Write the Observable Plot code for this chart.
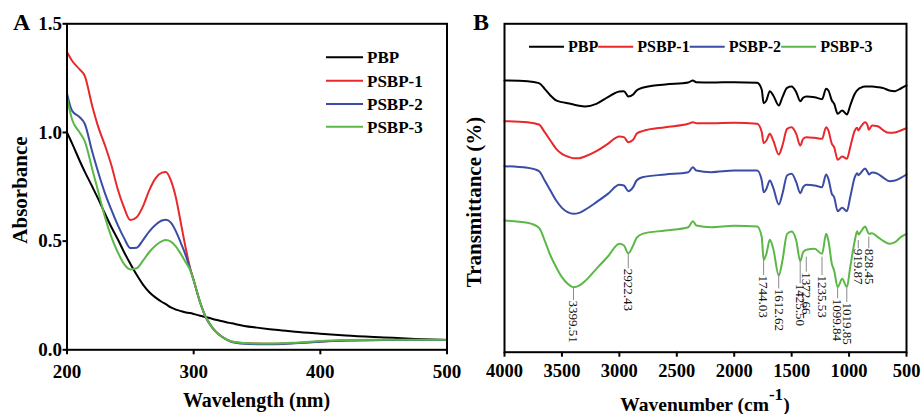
<!DOCTYPE html>
<html>
<head>
<meta charset="utf-8">
<script src="https://cdn.jsdelivr.net/npm/d3@7"></script>
<script src="https://cdn.jsdelivr.net/npm/@observablehq/plot@0.6"></script>
<style>
  html, body { margin: 0; padding: 0; background: #fff; }
  #wrap { position: relative; width: 921px; height: 414px; overflow: hidden; font-family: "Liberation Serif", "Times New Roman", serif; }
  .panel { position: absolute; top: 0; }
</style>
</head>
<body>
<div id="wrap"><div id="pa" class="panel" style="left:0"></div><div id="pb" class="panel" style="left:460px"></div></div>
<script>
// ---------- shared ----------
const seriesNames = ["PBP", "PSBP-1", "PSBP-2", "PSBP-3"];
const seriesColors = ["#000000", "#e8282b", "#3a4ca6", "#5bb846"];

// ---------- Panel A: UV-vis ----------
const wavelengths = [200, 204, 210, 214, 220, 225, 230, 235, 240, 245, 250, 255, 260, 265, 270, 275, 278, 282, 286, 290, 294, 297, 300, 305, 310, 315, 320, 325, 330, 340, 350, 360, 370, 380, 400, 420, 450, 475, 500];
const absPBP = [1.00, 0.95, 0.87, 0.82, 0.75, 0.69, 0.626, 0.565, 0.51, 0.45, 0.396, 0.345, 0.30, 0.265, 0.24, 0.22, 0.21, 0.195, 0.185, 0.178, 0.172, 0.169, 0.165, 0.157, 0.15, 0.142, 0.135, 0.128, 0.122, 0.11, 0.102, 0.095, 0.089, 0.083, 0.074, 0.066, 0.057, 0.05, 0.045];
const absPSBP1 = [1.37, 1.33, 1.29, 1.26, 1.12, 1.02, 0.94, 0.85, 0.74, 0.655, 0.597, 0.61, 0.66, 0.735, 0.79, 0.815, 0.818, 0.78, 0.70, 0.58, 0.46, 0.38, 0.32, 0.22, 0.145, 0.10, 0.07, 0.05, 0.038, 0.031, 0.029, 0.028, 0.029, 0.031, 0.038, 0.043, 0.045, 0.045, 0.045];
const absPSBP2 = [1.18, 1.10, 1.07, 1.04, 0.91, 0.81, 0.72, 0.645, 0.575, 0.515, 0.468, 0.47, 0.505, 0.545, 0.575, 0.595, 0.598, 0.585, 0.545, 0.49, 0.43, 0.375, 0.32, 0.22, 0.145, 0.10, 0.07, 0.05, 0.036, 0.028, 0.026, 0.026, 0.027, 0.03, 0.037, 0.043, 0.045, 0.045, 0.045];
const absPSBP3 = [1.16, 1.06, 1.00, 0.96, 0.83, 0.72, 0.61, 0.52, 0.45, 0.395, 0.37, 0.375, 0.41, 0.45, 0.48, 0.50, 0.505, 0.498, 0.475, 0.44, 0.40, 0.37, 0.32, 0.22, 0.145, 0.10, 0.07, 0.05, 0.038, 0.031, 0.029, 0.029, 0.03, 0.033, 0.04, 0.045, 0.046, 0.046, 0.046];
const uvTicks = [200, 300, 400, 500];
const absTicks = [0, 0.5, 1.0, 1.5];

// ---------- Panel B: FTIR ----------
const wavenumbers = [4000, 3800, 3700, 3650, 3600, 3550, 3500, 3450, 3400, 3350, 3300, 3200, 3100, 3000, 2960, 2922, 2880, 2850, 2800, 2600, 2400, 2360, 2330, 2200, 2000, 1800, 1760, 1744, 1720, 1690, 1660, 1612, 1580, 1540, 1500, 1460, 1425, 1400, 1372, 1300, 1235, 1200, 1180, 1150, 1130, 1099, 1060, 1019, 990, 950, 930, 919, 900, 860, 840, 828, 800, 750, 700, 650, 600, 550, 500];
const trPBP = [86.0, 85.8, 85.2, 83.5, 81.5, 80.0, 79.5, 79.2, 78.8, 78.4, 78.2, 79.0, 81.0, 82.7, 82.8, 81.2, 81.8, 83.0, 83.8, 84.8, 85.4, 86.0, 85.5, 85.4, 85.5, 85.3, 83.2, 79.2, 80.0, 82.8, 81.5, 78.5, 81.0, 83.8, 84.2, 82.5, 79.8, 80.8, 81.2, 81.0, 80.4, 83.5, 83.0, 80.0, 79.0, 76.0, 77.0, 75.8, 78.5, 82.0, 83.0, 83.4, 83.8, 84.2, 84.2, 84.2, 84.2, 84.0, 83.7, 83.0, 82.8, 83.6, 84.5];
const trPSBP1 = [73.8, 73.5, 72.8, 70.5, 68.0, 65.5, 64.0, 63.2, 62.7, 62.7, 63.2, 64.8, 67.0, 69.2, 69.0, 67.5, 68.2, 70.0, 70.8, 72.0, 73.0, 73.5, 73.2, 73.2, 73.3, 73.0, 70.5, 67.2, 68.0, 70.0, 68.0, 63.8, 66.5, 71.5, 72.0, 70.0, 66.5, 68.5, 69.0, 68.8, 68.5, 72.0, 71.0, 67.0, 66.0, 62.2, 63.2, 62.5, 66.0, 71.0, 71.8, 71.0, 72.0, 73.5, 72.6, 71.2, 72.5, 72.3, 71.0, 70.3, 70.4, 71.0, 71.7];
const trPSBP2 = [60.3, 59.8, 58.8, 56.0, 53.0, 50.0, 47.8, 46.5, 46.0, 46.3, 47.2, 49.5, 52.0, 54.7, 54.5, 52.8, 54.0, 56.0, 57.0, 57.8, 58.5, 60.0, 59.0, 58.5, 59.0, 59.0, 56.0, 52.5, 53.5, 56.0, 53.8, 48.8, 52.0, 57.5, 58.0, 55.5, 52.2, 54.0, 54.7, 54.5, 54.0, 57.8, 56.5, 52.0, 51.0, 46.8, 47.8, 46.8, 51.0, 57.0, 58.2, 57.6, 58.2, 59.6, 58.6, 57.8, 58.4, 58.0, 56.8, 55.8, 56.0, 56.8, 57.8];
const trPSBP3 = [44.0, 43.3, 41.8, 38.0, 33.5, 30.0, 27.0, 25.0, 24.0, 24.5, 25.8, 29.5, 33.2, 37.0, 36.5, 34.2, 36.5, 38.8, 40.0, 41.0, 42.0, 43.8, 42.5, 42.0, 42.4, 42.2, 39.0, 32.2, 34.0, 38.2, 35.5, 27.5, 32.0, 40.0, 40.7, 38.0, 31.8, 34.5, 35.2, 35.5, 34.0, 40.0, 38.0, 31.0, 29.0, 24.0, 26.5, 24.0, 30.0, 38.0, 40.8, 39.8, 40.5, 42.2, 40.8, 40.0, 40.2, 39.0, 37.8, 37.0, 37.5, 39.0, 40.0];
const wnTicks = [4000, 3500, 3000, 2500, 2000, 1500, 1000, 500];
const peakWn = [3399.51, 2922.43, 1744.03, 1612.62, 1425.50, 1372.66, 1235.53, 1099.84, 1019.85, 919.87, 828.45];
const peakLeadTop = [24.0, 34.0, 32.0, 28.0, 31.5, 33.0, 33.0, 23.6, 23.6, 38.0, 39.0];
const peakLeadEnd = [20.0, 29.5, 27.5, 23.5, 25.0, 28.5, 27.5, 20.5, 19.4, 35.5, 35.5];

// ---------- tidy tables ----------
const uvSeries = [absPBP, absPSBP1, absPSBP2, absPSBP3];
const uvData = uvSeries.flatMap((arr, i) => arr.map((v, j) => ({x: wavelengths[j], y: v, series: seriesNames[i]})));
const irSeries = [trPBP, trPSBP1, trPSBP2, trPSBP3];
const irData = irSeries.flatMap((arr, i) => arr.map((v, j) => ({x: wavenumbers[j], y: v, series: seriesNames[i]})));
const peaks = peakWn.map((w, i) => ({x: w, top: peakLeadTop[i], end: peakLeadEnd[i], label: w.toFixed(2)}));

const FONT = "'Liberation Serif', 'Times New Roman', 'DejaVu Serif', serif";
const baseStyle = {fontFamily: FONT, fontWeight: "bold", fontSize: "19px", background: "transparent", color: "#000", overflow: "visible"};

// ---------- Panel A ----------
const A = Plot.plot({
  width: 460, height: 414,
  marginLeft: 66.5, marginRight: 13.5, marginTop: 23.3, marginBottom: 64.7,
  style: baseStyle,
  x: {domain: [200, 500], label: null},
  y: {domain: [0, 1.5], label: null},
  color: {domain: seriesNames, range: seriesColors},
  marks: [
    Plot.line(uvData, {x: "x", y: "y", z: "series", stroke: "series", strokeWidth: 2, curve: "monotone-x"}),
    Plot.frame({stroke: "#000", strokeWidth: 2}),
    Plot.axisX({ticks: uvTicks, tickSize: 5, tickPadding: 10, strokeWidth: 2, fontSize: 19, fontWeight: "bold", fontFamily: FONT, tickFormat: d3.format("d"), label: null}),
    Plot.axisY({ticks: absTicks, tickSize: 4, tickPadding: 1, strokeWidth: 2, fontSize: 19, fontWeight: "bold", fontFamily: FONT, tickFormat: d3.format(".1f"), label: null})
  ]
});
document.getElementById("pa").appendChild(A);

// ---------- Panel B ----------
const B = Plot.plot({
  width: 461, height: 414,
  marginLeft: 44, marginRight: 15, marginTop: 23.3, marginBottom: 62.3,
  style: baseStyle,
  x: {domain: [4000, 500], label: null},
  y: {domain: [4.5, 103], axis: null},
  color: {domain: seriesNames, range: seriesColors},
  marks: [
    Plot.line(irData, {x: "x", y: "y", z: "series", stroke: "series", strokeWidth: 2, curve: "monotone-x"}),
    Plot.ruleX(peaks, {x: "x", y1: "top", y2: "end", stroke: "#8a8a8a", strokeWidth: 1}),
    Plot.text(peaks, {x: "x", y: "end", text: "label", rotate: 90, textAnchor: "start", lineAnchor: "middle", fontSize: 13, fontWeight: "normal", fontFamily: FONT, fill: "#111"}),
    Plot.frame({stroke: "#000", strokeWidth: 2}),
    Plot.axisX({ticks: wnTicks, tickSize: 5, tickPadding: 7, strokeWidth: 2, fontSize: 18.5, fontWeight: "bold", fontFamily: FONT, tickFormat: d3.format("d"), label: null})
  ]
});
document.getElementById("pb").appendChild(B);

// ---------- titles & legends ----------
function addText(svg, x, y, txt, size, opts = {}) {
  const t = d3.select(svg).append("text")
    .attr("x", x).attr("y", y)
    .attr("font-family", FONT).attr("font-weight", "bold")
    .attr("font-size", size).attr("fill", "#000")
    .attr("text-anchor", opts.anchor || "start");
  if (opts.rotate) t.attr("transform", `rotate(${opts.rotate},${x},${y})`);
  t.text(txt);
  return t;
}

// Panel A
addText(A, 13, 30, "A", 24);
addText(A, 256.5, 407, "Wavelength (nm)", 20, {anchor: "middle"});
addText(A, 27, 190, "Absorbance", 21, {anchor: "middle", rotate: -90});
const legA = [57.3, 80.7, 104, 126.7];
seriesNames.forEach((s, i) => {
  d3.select(A).append("line").attr("x1", 326).attr("x2", 363).attr("y1", legA[i]).attr("y2", legA[i])
    .attr("stroke", seriesColors[i]).attr("stroke-width", 2);
  addText(A, 367, legA[i] + 5.8, s, 17);
});

// Panel B
addText(B, 13, 30, "B", 24);
addText(B, 21, 202, "Transmittance (%)", 21, {anchor: "middle", rotate: -90});
const xt = d3.select(B).append("text").attr("x", 245).attr("y", 410.5)
  .attr("font-family", FONT).attr("font-weight", "bold").attr("font-size", 19.5)
  .attr("text-anchor", "middle").attr("fill", "#000");
xt.append("tspan").text("Wavenumber (cm");
xt.append("tspan").attr("dy", -11).attr("font-size", 17).text("-1");
xt.append("tspan").attr("dy", 11).text(")");

let lx = 69;
const legBY = 46.7;
seriesNames.forEach((s, i) => {
  d3.select(B).append("line").attr("x1", lx).attr("x2", lx + 35).attr("y1", legBY).attr("y2", legBY)
    .attr("stroke", seriesColors[i]).attr("stroke-width", 2);
  const t = addText(B, lx + 39, legBY + 5.4, s, 16);
  lx = lx + 39 + t.node().getComputedTextLength();
});
</script>
</body>
</html>
